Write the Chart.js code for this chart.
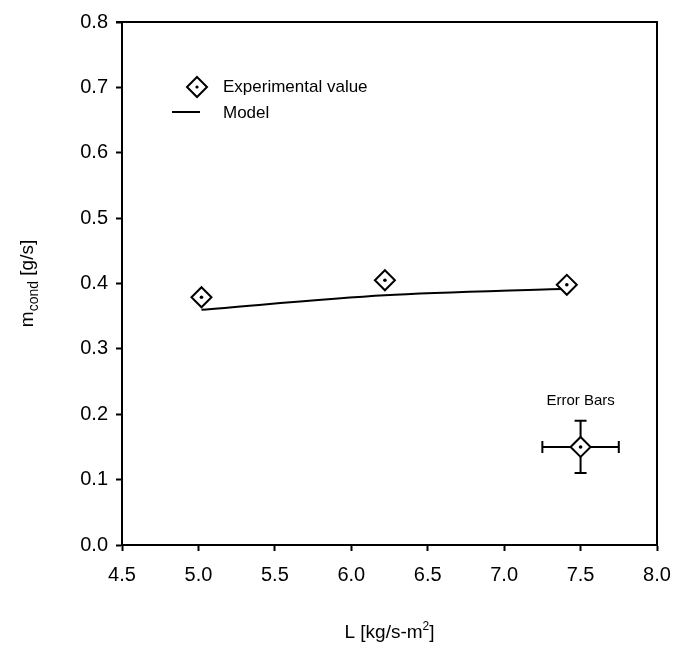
<!DOCTYPE html>
<html>
<head>
<meta charset="utf-8">
<script src="https://cdn.jsdelivr.net/npm/chart.js@4.4.1/dist/chart.umd.min.js"></script>
<style>
  html, body { margin: 0; padding: 0; background: #fff; }
  #wrap { width: 676px; height: 648px; }
</style>
</head>
<body>
<div id="wrap"><canvas id="c" width="676" height="648"></canvas></div>
<script>
// Liquid loading L versus condensation rate
const loading = [5.02, 6.22, 7.41];
const experimental = [0.379, 0.405, 0.398];
const modelValues = [0.360, 0.382, 0.392];

// Representative error bar sample
const errorCenter = { x: 7.5, y: 0.15 };
const errorX = 0.25;
const errorY = 0.04;

const xTickLabels = ['4.5', '5.0', '5.5', '6.0', '6.5', '7.0', '7.5', '8.0'];
const yTickLabels = ['0.0', '0.1', '0.2', '0.3', '0.4', '0.5', '0.6', '0.7', '0.8'];

const FONT = '"Liberation Sans", Arial, sans-serif';

const framePlugin = {
  id: 'frame',
  afterDatasetsDraw(chart) {
    const { ctx, chartArea: a, scales } = chart;
    ctx.save();
    ctx.strokeStyle = '#000';
    ctx.lineWidth = 2;
    ctx.beginPath();
    ctx.moveTo(a.left - 6, a.top);
    ctx.lineTo(a.right, a.top);
    ctx.lineTo(a.right, a.bottom);
    ctx.stroke();

    // error bars of the sample point
    const xs = scales.x, ys = scales.y;
    const cx = xs.getPixelForValue(errorCenter.x);
    const cy = ys.getPixelForValue(errorCenter.y);
    const x0 = xs.getPixelForValue(errorCenter.x - errorX);
    const x1 = xs.getPixelForValue(errorCenter.x + errorX);
    const y0 = ys.getPixelForValue(errorCenter.y + errorY);
    const y1 = ys.getPixelForValue(errorCenter.y - errorY);
    const cap = 6;
    ctx.lineWidth = 2;
    ctx.beginPath();
    ctx.moveTo(x0, cy); ctx.lineTo(cx - 10, cy);
    ctx.moveTo(cx + 10, cy); ctx.lineTo(x1, cy);
    ctx.moveTo(x0, cy - cap); ctx.lineTo(x0, cy + cap);
    ctx.moveTo(x1, cy - cap); ctx.lineTo(x1, cy + cap);
    ctx.moveTo(cx, y0); ctx.lineTo(cx, cy - 10);
    ctx.moveTo(cx, cy + 10); ctx.lineTo(cx, y1);
    ctx.moveTo(cx - cap, y0); ctx.lineTo(cx + cap, y0);
    ctx.moveTo(cx - cap, y1); ctx.lineTo(cx + cap, y1);
    ctx.stroke();

    ctx.fillStyle = '#000';
    ctx.font = '15px ' + FONT;
    ctx.textAlign = 'center';
    ctx.textBaseline = 'middle';
    ctx.fillText('Error Bars', cx, y0 - 20);

    // legend
    const lx = 197, ly = 87;
    ctx.lineWidth = 2;
    ctx.beginPath();
    ctx.moveTo(lx, ly - 10); ctx.lineTo(lx + 10, ly); ctx.lineTo(lx, ly + 10); ctx.lineTo(lx - 10, ly); ctx.closePath();
    ctx.stroke();
    ctx.beginPath(); ctx.arc(lx, ly, 1.6, 0, Math.PI * 2); ctx.fill();
    ctx.beginPath();
    ctx.moveTo(172, 112); ctx.lineTo(200, 112);
    ctx.stroke();
    ctx.font = '17px ' + FONT;
    ctx.textAlign = 'left';
    ctx.fillText('Experimental value', 223, ly);
    ctx.fillText('Model', 223, 113);

    // axis titles
    ctx.textBaseline = 'alphabetic';
    const tx = (a.left + a.right) / 2, ty = 638;
    const t1 = 'L [kg/s-m', t2 = '2', t3 = ']';
    ctx.font = '19px ' + FONT;
    const w1 = ctx.measureText(t1).width, w3 = ctx.measureText(t3).width;
    ctx.font = '12px ' + FONT;
    const w2 = ctx.measureText(t2).width;
    let px = tx - (w1 + w2 + w3) / 2;
    ctx.font = '19px ' + FONT;
    ctx.fillText(t1, px, ty); px += w1;
    ctx.font = '12px ' + FONT;
    ctx.fillText(t2, px, ty - 8); px += w2;
    ctx.font = '19px ' + FONT;
    ctx.fillText(t3, px, ty);

    ctx.save();
    ctx.translate(33, (a.top + a.bottom) / 2);
    ctx.rotate(-Math.PI / 2);
    const s1 = 'm', s2 = 'cond', s3 = ' [g/s]';
    ctx.font = '19px ' + FONT;
    const v1 = ctx.measureText(s1).width, v3 = ctx.measureText(s3).width;
    ctx.font = '14px ' + FONT;
    const v2 = ctx.measureText(s2).width;
    let qx = -(v1 + v2 + v3) / 2;
    ctx.font = '19px ' + FONT;
    ctx.fillText(s1, qx, 0); qx += v1;
    ctx.font = '14px ' + FONT;
    ctx.fillText(s2, qx, 5); qx += v2;
    ctx.font = '19px ' + FONT;
    ctx.fillText(s3, qx, 0);
    ctx.restore();
    ctx.restore();
  }
};

const ctx = document.getElementById('c').getContext('2d');
new Chart(ctx, {
  type: 'scatter',
  data: {
    datasets: [
      {
        label: 'Model',
        type: 'line',
        data: loading.map((x, i) => ({ x, y: modelValues[i] })),
        borderColor: '#000',
        borderWidth: 2,
        pointRadius: 0,
        tension: 0.3,
        fill: false,
        order: 3
      },
      {
        label: 'Experimental value',
        data: loading.map((x, i) => ({ x, y: experimental[i] })),
        pointStyle: 'rectRot',
        pointRadius: 10,
        pointBorderWidth: 2,
        pointBorderColor: '#000',
        pointBackgroundColor: '#fff',
        order: 2
      },
      {
        label: 'Error Bars',
        data: [{ x: errorCenter.x, y: errorCenter.y }],
        pointStyle: 'rectRot',
        pointRadius: 10,
        pointBorderWidth: 2,
        pointBorderColor: '#000',
        pointBackgroundColor: '#fff',
        order: 1
      },
      {
        label: 'centres',
        data: loading.map((x, i) => ({ x, y: experimental[i] })).concat([{ x: errorCenter.x, y: errorCenter.y }]),
        pointStyle: 'circle',
        pointRadius: 1.8,
        pointBorderWidth: 0,
        pointBackgroundColor: '#000',
        order: 0
      }
    ]
  },
  options: {
    responsive: false,
    animation: false,
    events: [],
    layout: { padding: { left: 0, right: 19, top: 22, bottom: 0 } },
    plugins: { legend: { display: false }, tooltip: { enabled: false } },
    scales: {
      x: {
        type: 'linear',
        min: 4.5, max: 8.0,
        afterFit(s) { s.height = 103; s.paddingLeft = 0; s.paddingRight = 0; },
        afterBuildTicks(s) { s.ticks = xTickLabels.map(v => ({ value: parseFloat(v) })); },
        ticks: {
          callback: (v) => xTickLabels.find(t => parseFloat(t) === v) || '',
          color: '#000',
          font: { family: FONT, size: 20 },
          padding: 12,
          maxRotation: 0
        },
        grid: { drawOnChartArea: false, color: '#000', tickLength: 6, tickWidth: 2 },
        border: { color: '#000', width: 2 }
      },
      y: {
        type: 'linear',
        min: 0, max: 0.8,
        afterFit(s) { s.width = 122; s.paddingTop = 0; s.paddingBottom = 0; },
        afterBuildTicks(s) { s.ticks = yTickLabels.map(v => ({ value: parseFloat(v) })); },
        ticks: {
          callback: (v) => yTickLabels.find(t => Math.abs(parseFloat(t) - v) < 1e-9) || '',
          color: '#000',
          font: { family: FONT, size: 20 },
          padding: 8
        },
        grid: { drawOnChartArea: false, color: '#000', tickLength: 6, tickWidth: 2 },
        border: { color: '#000', width: 2 }
      }
    }
  },
  plugins: [framePlugin]
});
</script>
</body>
</html>
